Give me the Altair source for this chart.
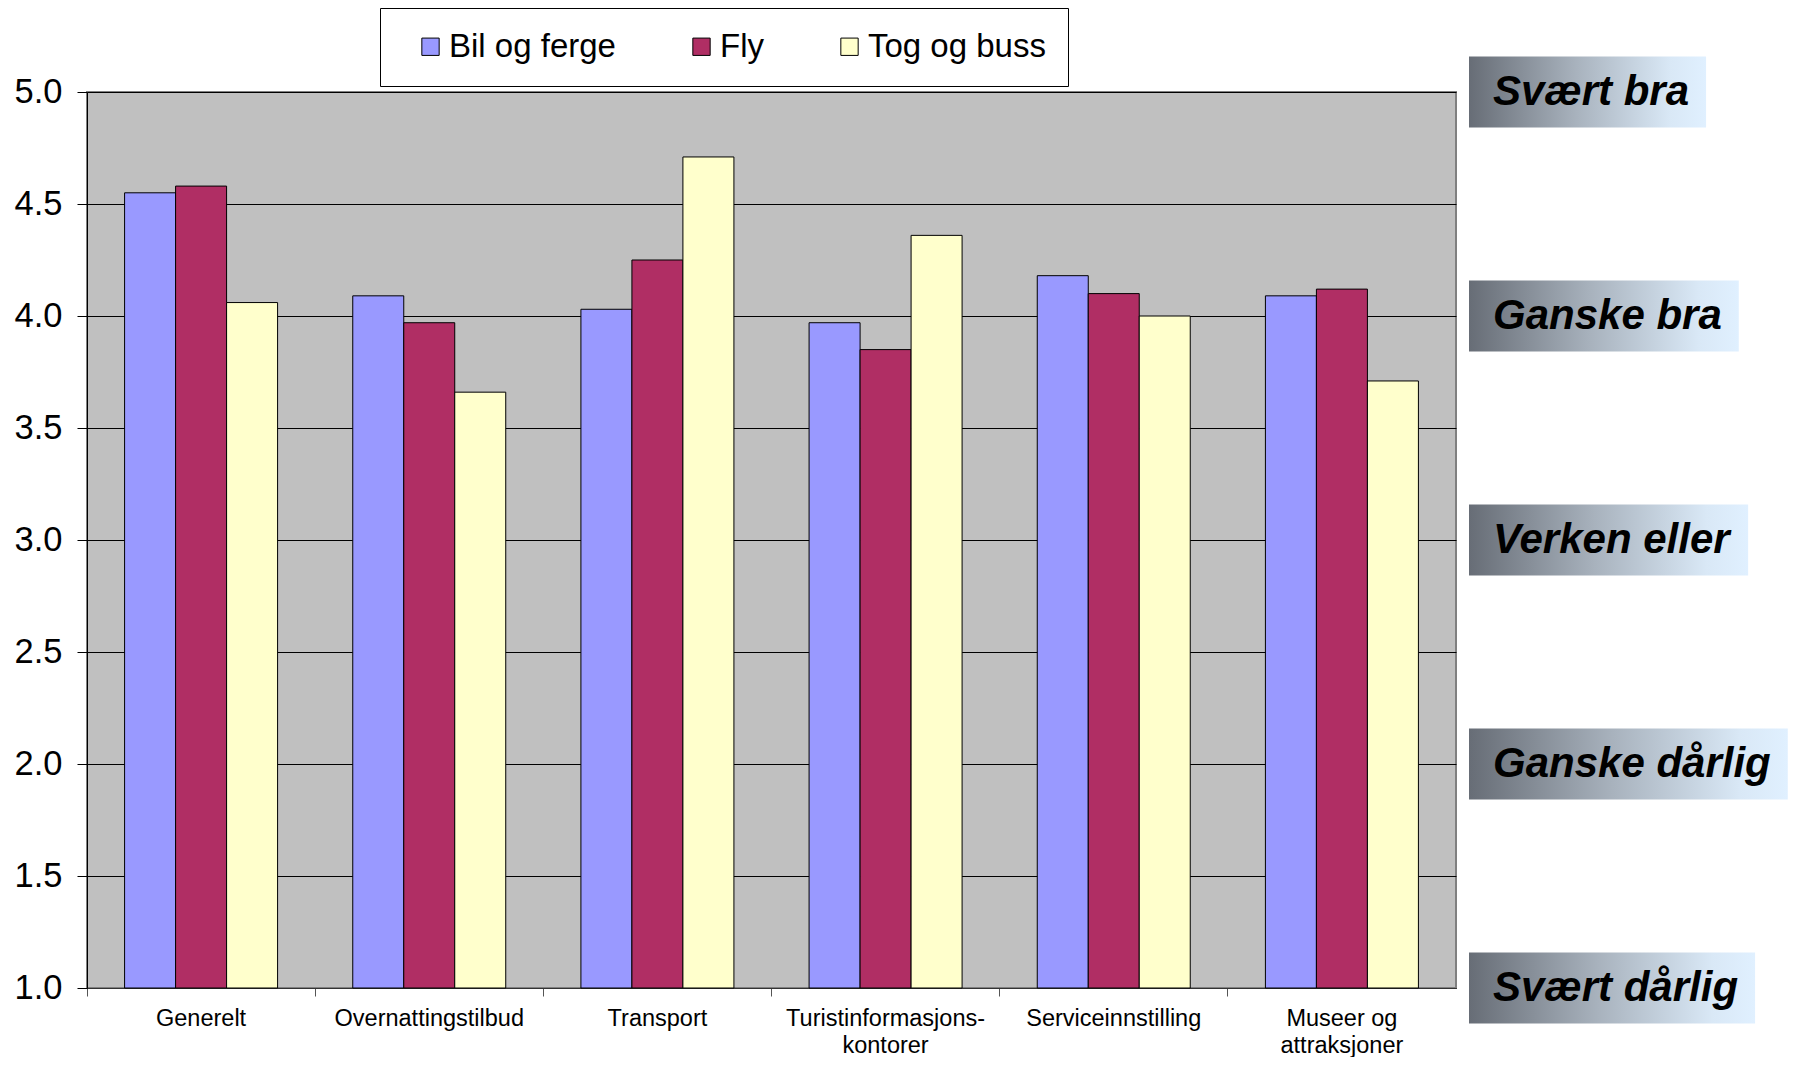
import altair as alt
import pandas as pd

# ---------------- data ----------------
categories = ["Generelt", "Overnattingstilbud", "Transport",
              "Turistinformasjons-|kontorer", "Serviceinnstilling", "Museer og|attraksjoner"]
series = ["Bil og ferge", "Fly", "Tog og buss"]
bil_og_ferge = [4.55, 4.09, 4.03, 3.97, 4.18, 4.09]
fly = [4.58, 3.97, 4.25, 3.85, 4.10, 4.12]
tog_og_buss = [4.06, 3.66, 4.71, 4.36, 4.00, 3.71]
y_ticks = [1.0, 1.5, 2.0, 2.5, 3.0, 3.5, 4.0, 4.5, 5.0]
rating_levels = [5, 4, 3, 2, 1]
rating_labels = ["Svært bra", "Ganske bra", "Verken eller", "Ganske dårlig", "Svært dårlig"]

# ---------------- style ----------------
colors = ["#9999FF", "#B02E64", "#FFFFCC"]
FONT = "Liberation Sans"
W, H = 1369, 896

rows = []
for s, vals in zip(series, [bil_og_ferge, fly, tog_og_buss]):
    for c, v in zip(categories, vals):
        rows.append({"kategori": c, "serie": s, "verdi": v})
df = pd.DataFrame(rows)

bars = alt.Chart(df).mark_bar(stroke="black", strokeWidth=1).encode(
    x=alt.X("kategori:N", sort=categories,
            scale=alt.Scale(paddingInner=0, paddingOuter=0),
            axis=alt.Axis(title=None, labelAngle=0, bandPosition=0,
                          labelExpr="split(datum.label, '|')", labelFontSize=23.5,
                          labelLineHeight=27, labelLimit=0, tickSize=8, tickColor="#555555",
                          domainColor="#333333", labelPadding=10, grid=False)),
    xOffset=alt.XOffset("serie:N", sort=series,
                        scale=alt.Scale(domain=series, paddingOuter=0.737, paddingInner=0)),
    y=alt.Y("verdi:Q", scale=alt.Scale(domain=[1, 5], nice=False, zero=False),
            axis=alt.Axis(values=y_ticks, format=".1f", title=None, labelFontSize=34.5,
                          tickSize=10, tickColor="black", domainColor="black",
                          grid=True, gridColor="black", labelPadding=15)),
    y2=alt.datum(1),
    fill=alt.Fill("serie:N", sort=series, scale=alt.Scale(domain=series, range=colors),
                  legend=alt.Legend(title=None, orient="none", legendX=293, legendY=-84,
                                    direction="horizontal", columns=3, symbolType="square",
                                    symbolSize=300, symbolStrokeColor="black",
                                    symbolStrokeWidth=1, labelFontSize=33, labelColor="black",
                                    columnPadding=57, padding=22, strokeColor="black",
                                    fillColor="white", symbolOffset=12, labelOffset=2,
                                    labelLimit=0)),
)

# Arial/Liberation Sans Bold advance widths (em) for box sizing
BOLD_W = {" ": .278, "S": .667, "V": .667, "G": .778, "a": .556, "b": .611, "d": .611,
          "e": .556, "g": .611, "i": .278, "k": .556, "l": .278, "n": .611, "r": .389,
          "s": .556, "t": .333, "v": .556, "æ": .889, "å": .556}
LABEL_SIZE = 42
BOX_X = 1382

gradient = alt.LinearGradient(
    gradient="linear",
    stops=[alt.GradientStop(color="#676D76", offset=0),
           alt.GradientStop(color="#A8B2BD", offset=0.45),
           alt.GradientStop(color="#D9E8F6", offset=0.85),
           alt.GradientStop(color="#E0F0FF", offset=1)],
    x1=0, x2=1, y1=0, y2=0)

one_row = pd.DataFrame({"d": [0]})
boxes = []
for lvl, lab in zip(rating_levels, rating_labels):
    w = 24 + sum(BOLD_W.get(ch, 0.6) for ch in lab) * LABEL_SIZE + 17
    boxes.append(
        alt.Chart(one_row).mark_rect(fill=gradient, yOffset=-35.5, y2Offset=35.5).encode(
            x=alt.value(BOX_X), x2=alt.value(BOX_X + w),
            y=alt.datum(lvl), y2=alt.datum(lvl))
    )

df_r = pd.DataFrame({"niva": rating_levels, "tekst": rating_labels})
texts = alt.Chart(df_r).mark_text(align="left", baseline="middle", font=FONT,
                                  fontSize=LABEL_SIZE, fontWeight="bold", fontStyle="italic",
                                  color="black").encode(
    x=alt.value(BOX_X + 24), y="niva:Q", text="tekst:N")

chart = alt.layer(bars, *boxes, texts).properties(
    width=W, height=H,
    autosize=alt.AutoSizeParams(type="none"),
    padding={"left": 79, "top": 84, "right": 336, "bottom": 69},
).configure_view(fill="#C0C0C0", stroke="#808080", strokeWidth=2
).configure_axis(labelFont=FONT, labelColor="black"
).configure_legend(labelFont=FONT)

chart.save("out.html", embed_options={"renderer": "svg", "actions": False})
